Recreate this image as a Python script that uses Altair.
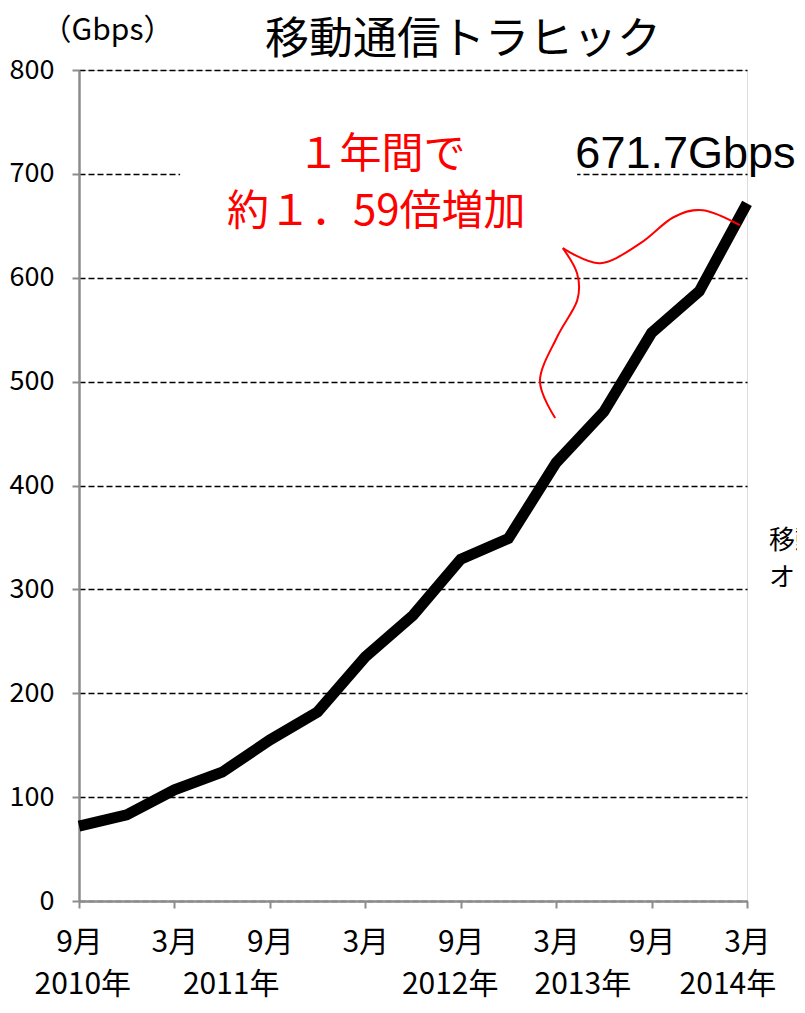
import altair as alt
import pandas as pd

# --- data -------------------------------------------------------------
quarters = ["2010-09", "2010-12", "2011-03", "2011-06", "2011-09", "2011-12",
            "2012-03", "2012-06", "2012-09", "2012-12", "2013-03", "2013-06",
            "2013-09", "2013-12", "2014-03"]
traffic = [72, 83, 107, 124, 155, 182, 235, 275, 329, 349, 422, 471, 547, 587, 671.7]

tick_idx = [0, 2, 4, 6, 8, 10, 12, 14]
year_labels = ["2010年", "2011年", "2012年", "2013年", "2014年"]
year_pos = [0.08, 3.19, 7.78, 10.56, 13.6]

# red brace (annotation) in data coordinates: (quarter index, Gbps)
brace_seg = ["a"] * 6 + ["b"] * 6
brace_x = [9.98, 9.66, 10.02, 10.44, 10.44, 10.14, 10.14, 10.92, 11.76, 12.45, 13.08, 13.85]
brace_y = [465, 501, 543, 578, 604, 628.5, 628.5, 614, 633, 658, 665, 650.6]

FONT = "Noto Sans CJK JP"

df = pd.DataFrame({"q": quarters, "i": list(range(len(quarters))), "v": traffic})
brace_df = pd.DataFrame({"seg": brace_seg, "x": brace_x, "y": brace_y,
                         "ord": list(range(len(brace_x)))})
years_df = pd.DataFrame({"t": year_labels, "x": year_pos, "y": [-81] * len(year_labels)})

xs = alt.Scale(domain=[0, 14], nice=False, zero=False, padding=0)
ys = alt.Scale(domain=[0, 800], nice=False)

x_axis = alt.Axis(values=tick_idx, grid=False, title=None, labelFlush=False,
                  labelExpr="datum.value % 4 == 0 ? '9月' : '3月'",
                  labelFontSize=30, labelFont=FONT, labelColor="black",
                  labelPadding=19, tickSize=7, tickWidth=2, tickColor="#8c8c8c",
                  domainColor="#8c8c8c", domainWidth=2.5)
y_axis = alt.Axis(values=list(range(0, 801, 100)), grid=True, gridColor="black",
                  gridDash=[6, 3], gridWidth=1.5, title="（Gbps）", titleAngle=0,
                  titleX=28, titleY=-40, titleAlign="center", titleBaseline="middle",
                  titleFontSize=30, titleFontWeight="normal", titleFont=FONT,
                  titleColor="black", labelFlush=False,
                  labelFontSize=27, labelFont=FONT, labelColor="black",
                  labelPadding=18, tickSize=7, tickWidth=2, tickColor="#8c8c8c",
                  domainColor="#8c8c8c", domainWidth=2.5)

line = alt.Chart(df).mark_line(color="black", strokeWidth=11, strokeJoin="miter").encode(
    x=alt.X("i:Q", scale=xs, axis=x_axis),
    y=alt.Y("v:Q", scale=ys, axis=y_axis),
    order="i:Q",
)

cover = alt.Chart(pd.DataFrame({"x": [2.12], "x2": [10.44], "y": [690], "y2": [712]})).mark_rect(
    color="white").encode(x=alt.X("x:Q", scale=xs), x2="x2:Q", y=alt.Y("y:Q", scale=ys), y2="y2:Q")

brace = alt.Chart(brace_df).mark_line(color="red", strokeWidth=2, interpolate="cardinal").encode(
    x=alt.X("x:Q", scale=xs), y=alt.Y("y:Q", scale=ys), detail="seg:N", order="ord:Q")

ann_df = pd.DataFrame({
    "t": ["移動通信トラヒック", "１年間で", "約１．59倍増加"],
    "x": [8.05, 6.34, 6.23],
    "y": [828, 718, 663],
    "c": ["black", "red", "red"],
    "s": [44, 42, 42],
})
ann = alt.Chart(ann_df).mark_text(font=FONT, baseline="middle", align="center").encode(
    x=alt.X("x:Q", scale=xs), y=alt.Y("y:Q", scale=ys), text="t:N",
    color=alt.Color("c:N", scale=None), size=alt.Size("s:Q", scale=None))

big = alt.Chart(pd.DataFrame({"t": ["671.7Gbps"], "x": [12.71], "y": [719]})).mark_text(
    font="Liberation Sans", fontSize=45, baseline="middle", align="center", color="black").encode(
    x=alt.X("x:Q", scale=xs), y=alt.Y("y:Q", scale=ys), text="t:N")

side = alt.Chart(pd.DataFrame({"t": ["移動通信", "オフロード"], "x": [14.46, 14.46], "y": [347, 311]})).mark_text(
    font=FONT, fontSize=26, baseline="middle", align="left", color="black").encode(
    x=alt.X("x:Q", scale=xs), y=alt.Y("y:Q", scale=ys), text="t:N")

years = alt.Chart(years_df).mark_text(font=FONT, fontSize=30, baseline="middle", align="center",
                                       color="black").encode(
    x=alt.X("x:Q", scale=xs), y=alt.Y("y:Q", scale=ys), text="t:N")

chart = alt.layer(cover, line, brace, ann, big, side, years).properties(
    width=668, height=831,
    autosize=alt.AutoSizeParams(type="none"),
    padding={"left": 71, "top": 62, "right": 50, "bottom": 99},
).configure_view(stroke=None).configure(background="white")

chart.save("out.html", embed_options={"renderer": "svg", "actions": False})
